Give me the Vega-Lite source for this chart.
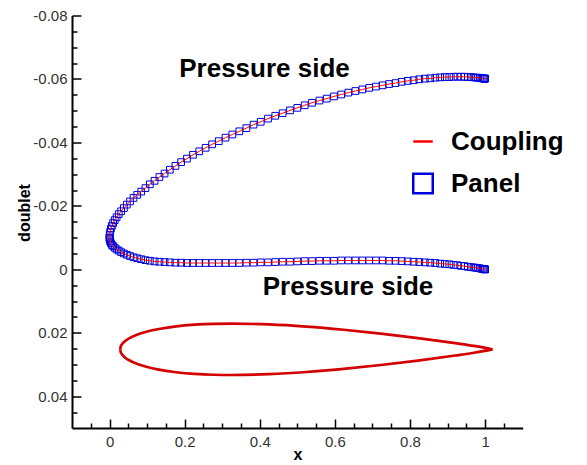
{
"$schema":"https://vega.github.io/schema/vega-lite/v6.json",
"width":450.7,"height":412.5,
"autosize":{"type":"none"},
"padding":{"left":72,"top":15.5,"right":64.3,"bottom":37},
"background":"white",
"config":{"view":{"stroke":null},"font":"Liberation Sans",
 "legend":{"labelFontSize":26,"labelFontWeight":"bold","labelColor":"black","labelFont":"Liberation Sans","symbolSize":380,"symbolStrokeWidth":2.5,"labelOffset":15,"rowPadding":14,"padding":0}},
"datasets":{
"foil":[
{"s":"u","x":0.0285,"y":0.0252},{"s":"u","x":0.0295,"y":0.02445},{"s":"u","x":0.0335,"y":0.02355},{"s":"u","x":0.0409,"y":0.02264},{"s":"u","x":0.0533,"y":0.02167},{"s":"u","x":0.0781,"y":0.0204},{"s":"u","x":0.1028,"y":0.01953},{"s":"u","x":0.1276,"y":0.01888},{"s":"u","x":0.1772,"y":0.01798},{"s":"u","x":0.2267,"y":0.01745},{"s":"u","x":0.2763,"y":0.01718},{"s":"u","x":0.3258,"y":0.0171},{"s":"u","x":0.4249,"y":0.01737},{"s":"u","x":0.524,"y":0.01805},{"s":"u","x":0.6231,"y":0.01904},{"s":"u","x":0.7222,"y":0.02025},{"s":"u","x":0.8213,"y":0.02166},{"s":"u","x":0.9204,"y":0.02325},{"s":"u","x":0.97,"y":0.02411},{"s":"u","x":1.0195,"y":0.0252},
{"s":"l","x":0.0285,"y":0.0252},{"s":"l","x":0.0295,"y":0.02595},{"s":"l","x":0.0335,"y":0.02685},{"s":"l","x":0.0409,"y":0.02776},{"s":"l","x":0.0533,"y":0.02873},{"s":"l","x":0.0781,"y":0.03},{"s":"l","x":0.1028,"y":0.03087},{"s":"l","x":0.1276,"y":0.03152},{"s":"l","x":0.1772,"y":0.03242},{"s":"l","x":0.2267,"y":0.03295},{"s":"l","x":0.2763,"y":0.03322},{"s":"l","x":0.3258,"y":0.0333},{"s":"l","x":0.4249,"y":0.03303},{"s":"l","x":0.524,"y":0.03235},{"s":"l","x":0.6231,"y":0.03136},{"s":"l","x":0.7222,"y":0.03015},{"s":"l","x":0.8213,"y":0.02874},{"s":"l","x":0.9204,"y":0.02715},{"s":"l","x":0.97,"y":0.02629},{"s":"l","x":1.0195,"y":0.0252}
],
"doublet":[
{"s":"u","x":0,"y":-0.0100},{"s":"u","x":0.0004,"y":-0.0109},{"s":"u","x":0.0015,"y":-0.0118},{"s":"u","x":0.0035,"y":-0.0128},{"s":"u","x":0.0062,"y":-0.0137},{"s":"u","x":0.0096,"y":-0.0146},{"s":"u","x":0.0138,"y":-0.0155},{"s":"u","x":0.0188,"y":-0.0164},{"s":"u","x":0.0245,"y":-0.0174},{"s":"u","x":0.0309,"y":-0.0183},{"s":"u","x":0.0381,"y":-0.0193},{"s":"u","x":0.0459,"y":-0.0204},{"s":"u","x":0.0545,"y":-0.0214},{"s":"u","x":0.0638,"y":-0.0225},{"s":"u","x":0.0737,"y":-0.0235},{"s":"u","x":0.0843,"y":-0.0245},{"s":"u","x":0.0955,"y":-0.0256},{"s":"u","x":0.1073,"y":-0.0268},{"s":"u","x":0.1198,"y":-0.0279},{"s":"u","x":0.1328,"y":-0.0291},{"s":"u","x":0.1464,"y":-0.0302},{"s":"u","x":0.1606,"y":-0.0314},{"s":"u","x":0.1753,"y":-0.0326},{"s":"u","x":0.1905,"y":-0.0338},{"s":"u","x":0.2061,"y":-0.0349},{"s":"u","x":0.2222,"y":-0.0361},{"s":"u","x":0.2388,"y":-0.0372},{"s":"u","x":0.2557,"y":-0.0383},{"s":"u","x":0.273,"y":-0.0394},{"s":"u","x":0.2907,"y":-0.0404},{"s":"u","x":0.3087,"y":-0.0415},{"s":"u","x":0.3269,"y":-0.0425},{"s":"u","x":0.3455,"y":-0.0435},{"s":"u","x":0.3643,"y":-0.0445},{"s":"u","x":0.3833,"y":-0.0456},{"s":"u","x":0.4025,"y":-0.0465},{"s":"u","x":0.4218,"y":-0.0475},{"s":"u","x":0.4412,"y":-0.0484},{"s":"u","x":0.4608,"y":-0.0492},{"s":"u","x":0.4804,"y":-0.0501},{"s":"u","x":0.5,"y":-0.0509},{"s":"u","x":0.5196,"y":-0.0517},{"s":"u","x":0.5392,"y":-0.0525},{"s":"u","x":0.5588,"y":-0.0532},{"s":"u","x":0.5782,"y":-0.0538},{"s":"u","x":0.5975,"y":-0.0545},{"s":"u","x":0.6167,"y":-0.0551},{"s":"u","x":0.6357,"y":-0.0557},{"s":"u","x":0.6545,"y":-0.0562},{"s":"u","x":0.6731,"y":-0.0567},{"s":"u","x":0.6913,"y":-0.0572},{"s":"u","x":0.7093,"y":-0.0576},{"s":"u","x":0.727,"y":-0.058},{"s":"u","x":0.7443,"y":-0.0584},{"s":"u","x":0.7612,"y":-0.0587},{"s":"u","x":0.7778,"y":-0.0591},{"s":"u","x":0.7939,"y":-0.0594},{"s":"u","x":0.8095,"y":-0.0596},{"s":"u","x":0.8247,"y":-0.0599},{"s":"u","x":0.8394,"y":-0.0601},{"s":"u","x":0.8536,"y":-0.0602},{"s":"u","x":0.8672,"y":-0.0604},{"s":"u","x":0.8802,"y":-0.0605},{"s":"u","x":0.8927,"y":-0.0606},{"s":"u","x":0.9045,"y":-0.0606},{"s":"u","x":0.9157,"y":-0.0607},{"s":"u","x":0.9263,"y":-0.0607},{"s":"u","x":0.9362,"y":-0.0607},{"s":"u","x":0.9455,"y":-0.0607},{"s":"u","x":0.9541,"y":-0.0606},{"s":"u","x":0.9619,"y":-0.0606},{"s":"u","x":0.9691,"y":-0.0605},{"s":"u","x":0.9755,"y":-0.0604},{"s":"u","x":0.9812,"y":-0.0604},{"s":"u","x":0.9862,"y":-0.0603},{"s":"u","x":0.9904,"y":-0.0602},{"s":"u","x":0.9938,"y":-0.0602},{"s":"u","x":0.9965,"y":-0.0601},{"s":"u","x":0.9985,"y":-0.0601},{"s":"u","x":0.9996,"y":-0.0601},{"s":"u","x":1,"y":-0.0601},
{"s":"l","x":0,"y":-0.0100},{"s":"l","x":0.0004,"y":-0.0094},{"s":"l","x":0.0015,"y":-0.0088},{"s":"l","x":0.0035,"y":-0.0083},{"s":"l","x":0.0062,"y":-0.0077},{"s":"l","x":0.0096,"y":-0.0073},{"s":"l","x":0.0138,"y":-0.0068},{"s":"l","x":0.0188,"y":-0.0063},{"s":"l","x":0.0245,"y":-0.0059},{"s":"l","x":0.0309,"y":-0.0054},{"s":"l","x":0.0381,"y":-0.005},{"s":"l","x":0.0459,"y":-0.0046},{"s":"l","x":0.0545,"y":-0.0042},{"s":"l","x":0.0638,"y":-0.0038},{"s":"l","x":0.0737,"y":-0.0035},{"s":"l","x":0.0843,"y":-0.0032},{"s":"l","x":0.0955,"y":-0.0029},{"s":"l","x":0.1073,"y":-0.0027},{"s":"l","x":0.1198,"y":-0.0025},{"s":"l","x":0.1328,"y":-0.0024},{"s":"l","x":0.1464,"y":-0.0023},{"s":"l","x":0.1606,"y":-0.0022},{"s":"l","x":0.1753,"y":-0.0021},{"s":"l","x":0.1905,"y":-0.0021},{"s":"l","x":0.2061,"y":-0.002},{"s":"l","x":0.2222,"y":-0.002},{"s":"l","x":0.2388,"y":-0.002},{"s":"l","x":0.2557,"y":-0.002},{"s":"l","x":0.273,"y":-0.002},{"s":"l","x":0.2907,"y":-0.002},{"s":"l","x":0.3087,"y":-0.002},{"s":"l","x":0.3269,"y":-0.002},{"s":"l","x":0.3455,"y":-0.002},{"s":"l","x":0.3643,"y":-0.0021},{"s":"l","x":0.3833,"y":-0.0021},{"s":"l","x":0.4025,"y":-0.0022},{"s":"l","x":0.4218,"y":-0.0022},{"s":"l","x":0.4412,"y":-0.0023},{"s":"l","x":0.4608,"y":-0.0024},{"s":"l","x":0.4804,"y":-0.0024},{"s":"l","x":0.5,"y":-0.0025},{"s":"l","x":0.5196,"y":-0.0026},{"s":"l","x":0.5392,"y":-0.0026},{"s":"l","x":0.5588,"y":-0.0027},{"s":"l","x":0.5782,"y":-0.0027},{"s":"l","x":0.5975,"y":-0.0027},{"s":"l","x":0.6167,"y":-0.0028},{"s":"l","x":0.6357,"y":-0.0028},{"s":"l","x":0.6545,"y":-0.0028},{"s":"l","x":0.6731,"y":-0.0028},{"s":"l","x":0.6913,"y":-0.0028},{"s":"l","x":0.7093,"y":-0.0028},{"s":"l","x":0.727,"y":-0.0028},{"s":"l","x":0.7443,"y":-0.0027},{"s":"l","x":0.7612,"y":-0.0027},{"s":"l","x":0.7778,"y":-0.0026},{"s":"l","x":0.7939,"y":-0.0025},{"s":"l","x":0.8095,"y":-0.0024},{"s":"l","x":0.8247,"y":-0.0023},{"s":"l","x":0.8394,"y":-0.0022},{"s":"l","x":0.8536,"y":-0.0021},{"s":"l","x":0.8672,"y":-0.002},{"s":"l","x":0.8802,"y":-0.0018},{"s":"l","x":0.8927,"y":-0.0017},{"s":"l","x":0.9045,"y":-0.0016},{"s":"l","x":0.9157,"y":-0.0014},{"s":"l","x":0.9263,"y":-0.0013},{"s":"l","x":0.9362,"y":-0.0011},{"s":"l","x":0.9455,"y":-0.001},{"s":"l","x":0.9541,"y":-0.0008},{"s":"l","x":0.9619,"y":-0.0007},{"s":"l","x":0.9691,"y":-0.0006},{"s":"l","x":0.9755,"y":-0.0005},{"s":"l","x":0.9812,"y":-0.0004},{"s":"l","x":0.9862,"y":-0.0003},{"s":"l","x":0.9904,"y":-0.0002},{"s":"l","x":0.9938,"y":-0.0001},{"s":"l","x":0.9965,"y":-0.0001},{"s":"l","x":0.9985,"y":0},{"s":"l","x":0.9996,"y":0},{"s":"l","x":1,"y":0}
],
"notes":[{"x":0.4125,"y":-0.0606,"t":"Pressure side"},{"x":0.635,"y":0.0082,"t":"Pressure side"}]
},
"layer":[
{"data":{"name":"foil"},
 "mark":{"type":"line","color":"#d40000","strokeWidth":2.7,"interpolate":"monotone"},
 "encoding":{
  "x":{"field":"x","type":"quantitative","scale":{"domain":[-0.1,1.1],"nice":false,"zero":false},
   "axis":{"values":[0,0.2,0.4,0.6,0.8,1],"labelExpr":"datum.value + ''","title":"x","titleFontSize":16,"titleFontWeight":"bold","titleColor":"black","titleY":18,"titleBaseline":"top","labelFontSize":15,"labelColor":"#333333","labelPadding":15,"labelOverlap":false,"labelFlush":false,"labelBound":false,"tickSize":-9,"tickWidth":1.5,"tickColor":"black","domainColor":"black","domainWidth":2,"grid":false}},
  "y":{"field":"y","type":"quantitative","scale":{"domain":[-0.08,0.05],"nice":false,"zero":false,"reverse":true},
   "axis":{"values":[-0.08,-0.06,-0.04,-0.02,0,0.02,0.04],"labelExpr":"datum.value + ''","title":"doublet","titleFontSize":16,"titleFontWeight":"bold","titleColor":"black","titleX":-40,"titleY":197,"labelFontSize":15,"labelColor":"#333333","labelPadding":14,"labelOverlap":false,"labelFlush":false,"labelBound":false,"tickSize":-9,"tickWidth":1.5,"tickColor":"black","domainColor":"black","domainWidth":2,"grid":false}},
  "detail":{"field":"s"}}},
{"data":{"name":"doublet"},
 "mark":{"type":"point","shape":"square","filled":false,"size":45,"strokeWidth":1,"opacity":1},
 "encoding":{
  "x":{"field":"x","type":"quantitative","axis":{"orient":"bottom","values":[-0.05,0.05,0.1,0.15,0.25,0.3,0.35,0.45,0.5,0.55,0.65,0.7,0.75,0.85,0.9,0.95,1.05],"labels":false,"title":null,"domain":false,"tickSize":-5,"tickWidth":1.5,"tickColor":"black","grid":false}},
  "y":{"field":"y","type":"quantitative","axis":{"orient":"left","values":[-0.075,-0.07,-0.065,-0.055,-0.05,-0.045,-0.035,-0.03,-0.025,-0.015,-0.01,-0.005,0.005,0.01,0.015,0.025,0.03,0.035,0.045],"labels":false,"title":null,"domain":false,"tickSize":-5,"tickWidth":1.5,"tickColor":"black","grid":false}},
  "color":{"datum":"Panel","type":"nominal","scale":{"domain":["Coupling","Panel"],"range":["#ff0000","#0000dd"]},"legend":{"title":null,"orient":"none","legendX":338,"legendY":113}},
  "shape":{"datum":"Panel","type":"nominal","scale":{"domain":["Coupling","Panel"],"range":["stroke","square"]},"legend":{"title":null,"orient":"none","legendX":338,"legendY":113}}}},
{"data":{"name":"doublet"},
 "mark":{"type":"line","strokeWidth":1},
 "encoding":{
  "x":{"field":"x","type":"quantitative","axis":null},
  "y":{"field":"y","type":"quantitative","axis":null},
  "color":{"datum":"Coupling","type":"nominal"},
  "detail":{"field":"s"}}},
{"data":{"name":"notes"},
 "mark":{"type":"text","fontSize":26,"fontWeight":"bold","font":"Liberation Sans","color":"black","align":"center","baseline":"alphabetic"},
 "encoding":{
  "x":{"field":"x","type":"quantitative","axis":null},
  "y":{"field":"y","type":"quantitative","axis":null},
  "text":{"field":"t"}}}
],
"resolve":{"axis":{"x":"independent","y":"independent"}}
}
